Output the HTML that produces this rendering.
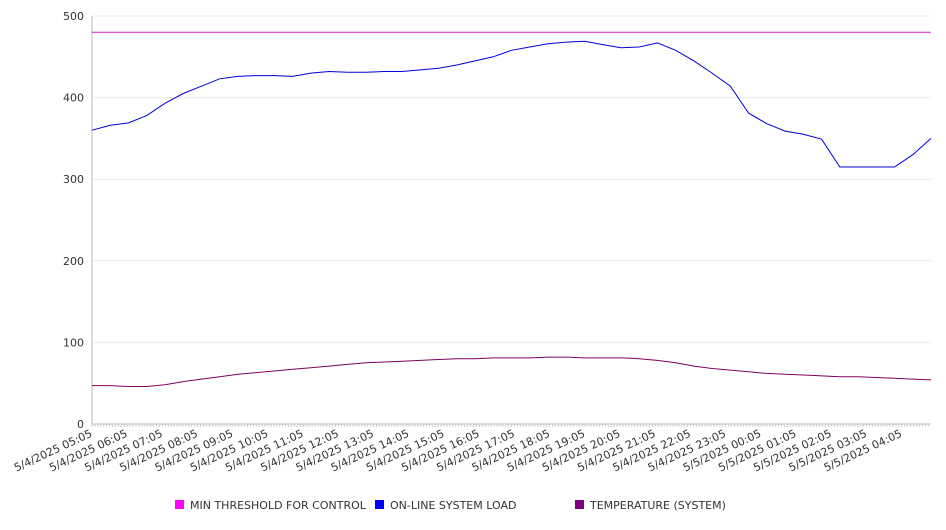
<!DOCTYPE html>
<html><head><meta charset="utf-8"><style>
body{margin:0;background:#fff;font-family:"DejaVu Sans","Liberation Sans",sans-serif}
svg text{font-family:"DejaVu Sans","Liberation Sans",sans-serif;fill:#333}
</style></head><body>
<svg id="chart" width="946" height="526" xmlns="http://www.w3.org/2000/svg">
<g id="grid"></g>
<g id="axes"></g>
<g id="series"></g>
<g id="legend">
<g><rect x="175" y="500" width="9" height="9" fill="#ff00ff"/><text x="190" y="509" font-size="11">MIN THRESHOLD FOR CONTROL</text></g>
<g><rect x="375" y="500" width="9" height="9" fill="#0000ff"/><text x="390" y="509" font-size="11">ON-LINE SYSTEM LOAD</text></g>
<g><rect x="575" y="500" width="9" height="9" fill="#800080"/><text x="590" y="509" font-size="11">TEMPERATURE (SYSTEM)</text></g>
</g>
</svg>
<script>
const xLabels=["5/4/2025 05:05","5/4/2025 06:05","5/4/2025 07:05","5/4/2025 08:05","5/4/2025 09:05","5/4/2025 10:05","5/4/2025 11:05","5/4/2025 12:05","5/4/2025 13:05","5/4/2025 14:05","5/4/2025 15:05","5/4/2025 16:05","5/4/2025 17:05","5/4/2025 18:05","5/4/2025 19:05","5/4/2025 20:05","5/4/2025 21:05","5/4/2025 22:05","5/4/2025 23:05","5/5/2025 00:05","5/5/2025 01:05","5/5/2025 02:05","5/5/2025 03:05","5/5/2025 04:05"];
const yTicks=[0,100,200,300,400,500];
const threshold=[480,480];
const load=[360,366,369,378,393,405,414,423,426,427,427,426,430,432,431,431,432,432,434,436,440,445,450,458,462,466,468,469,465,461,462,467,458,445,430,414,381,368,359,355,349,315,315,315,315,330,350];
const temperature=[47,47,46,46,48,52,55,58,61,63,65,67,69,71,73,75,76,77,78,79,80,80,81,81,81,82,82,81,81,81,80,78,75,71,68,66,64,62,61,60,59,58,58,57,56,55,54];
const NS="http://www.w3.org/2000/svg";
const L=92,R=931,T=16,B=424;
const SPAN=23.83; // hours shown across plot
const yS=v=>B-(v/500)*(B-T);
const xS=(i,n)=>L+i*(R-L)/(n-1);
const xT=h=>L+h/SPAN*(R-L);
function mk(tag,attrs,parent){const e=document.createElementNS(NS,tag);for(const k in attrs)e.setAttribute(k,attrs[k]);parent.appendChild(e);return e;}
const grid=document.getElementById('grid'),axes=document.getElementById('axes'),series=document.getElementById('series');
yTicks.forEach(v=>{
 const g=mk('line',{x1:L,x2:R,y1:yS(v),y2:yS(v),stroke:v===0?'#bbb':'#ebebeb','stroke-width':1},grid);
 
 
 const t=mk('text',{x:L-8,y:yS(v)+4,'text-anchor':'end','font-size':11},axes);
 t.textContent=v;
 
 
});
const ya=mk('line',{x1:L,x2:L,y1:T,y2:B,stroke:'#bbb'},axes);


for(let m=0;m<=SPAN*60;m+=5){const x=xT(m/60);const tk=mk('line',{x1:x,x2:x,y1:B,y2:B+3,stroke:'#ccc'},axes);}
xLabels.forEach((s,i)=>{
 const x=xT(i)+1, y=B+12;
 const t=mk('text',{x:x,y:y,'text-anchor':'end','font-size':11,transform:`rotate(-25 ${x} ${y})`},axes);
 t.textContent=s;
 
 
});
function line(data,color,name){
 const pts=data.map((v,i)=>xS(i,data.length).toFixed(1)+','+yS(v).toFixed(1)).join(' ');
 const p=mk('polyline',{points:pts,fill:'none',stroke:color,'stroke-width':1},series);
 
 
}
line(threshold,'#cc22cc','threshold-line');
line(load,'#0000dd','load-line');
line(temperature,'#800060','temperature-line');
</script>
</body></html>
